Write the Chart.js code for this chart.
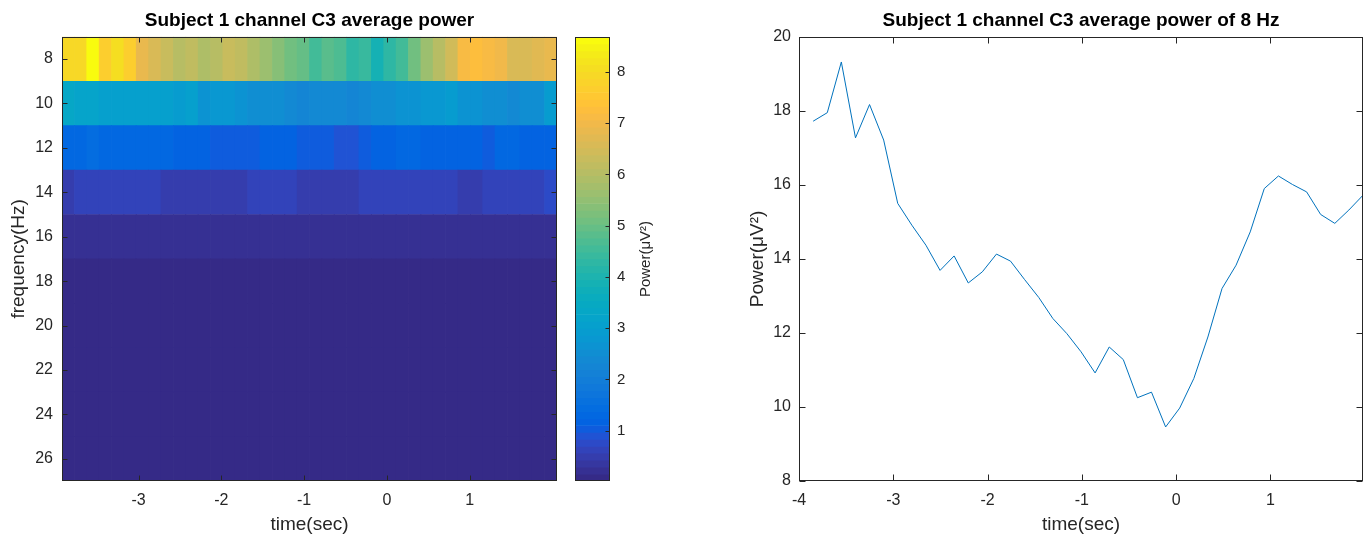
<!DOCTYPE html>
<html><head><meta charset="utf-8">
<script src="https://cdn.jsdelivr.net/npm/chart.js@4.4.1/dist/chart.umd.min.js"></script>
<style>
html,body{margin:0;padding:0;background:#fff;width:1365px;height:537px;overflow:hidden}
canvas{position:absolute;top:0}
</style></head><body>
<canvas id="heat" width="570" height="537" style="left:0px"></canvas>
<canvas id="cbar" width="140" height="537" style="left:560px"></canvas>
<canvas id="line" width="665" height="537" style="left:700px"></canvas>
<script>
// ---- data ----
const times = [-3.850,-3.700,-3.551,-3.401,-3.252,-3.102,-2.953,-2.803,-2.654,-2.504,-2.355,-2.205,-2.056,-1.906,-1.757,-1.607,-1.458,-1.308,-1.159,-1.009,-0.860,-0.710,-0.561,-0.411,-0.262,-0.112,0.037,0.187,0.336,0.486,0.635,0.785,0.934,1.084,1.233,1.383,1.532,1.682,1.831,1.981];
const freqs = [8,10,12,14,16,18,20,22,24,26];
const power8Hz = [17.72,17.95,19.32,17.27,18.17,17.21,15.50,14.91,14.37,13.69,14.08,13.35,13.65,14.13,13.94,13.44,12.96,12.39,11.98,11.49,10.92,11.62,11.28,10.25,10.40,9.46,9.97,10.77,11.89,13.20,13.83,14.73,15.90,16.24,16.01,15.81,15.20,14.96,15.32,15.72];
const row8  = [7.88,7.98,8.68,7.68,8.08,7.65,6.89,6.60,6.35,6.05,6.20,5.90,6.05,6.25,6.15,5.90,5.65,5.40,5.10,4.90,4.60,4.85,4.70,4.30,4.35,3.90,4.25,4.60,5.10,5.70,6.00,6.40,7.10,7.20,7.10,7.00,6.65,6.55,6.75,6.90];
const row10 = [3.40,3.22,3.20,3.12,3.10,3.08,3.05,3.04,3.00,2.98,3.00,2.62,2.76,2.74,2.66,2.56,2.55,2.50,2.36,2.26,2.40,2.42,2.36,2.26,2.36,2.50,2.52,2.62,2.60,2.80,2.82,2.92,2.62,2.60,2.56,2.46,2.45,2.55,2.56,2.96];
const row12 = [1.30,1.36,1.42,1.25,1.24,1.26,1.25,1.24,1.25,1.16,1.15,1.16,1.00,1.10,1.02,1.00,1.20,1.19,1.20,1.02,1.00,1.01,0.90,0.92,1.05,1.20,1.21,1.30,1.32,1.20,1.19,1.20,1.21,1.18,1.00,1.25,1.24,1.20,1.19,1.20];
const row14 = [0.46,0.60,0.61,0.60,0.62,0.60,0.61,0.60,0.48,0.49,0.47,0.48,0.49,0.47,0.48,0.62,0.63,0.61,0.62,0.50,0.49,0.50,0.51,0.50,0.60,0.61,0.60,0.62,0.61,0.60,0.62,0.61,0.47,0.48,0.60,0.62,0.61,0.62,0.60,0.74];
const row16 = [0.18,0.19,0.18,0.18,0.19,0.18,0.18,0.17,0.18,0.18,0.17,0.18,0.18,0.18,0.17,0.18,0.19,0.18,0.18,0.17,0.17,0.18,0.17,0.17,0.18,0.18,0.18,0.19,0.18,0.18,0.18,0.18,0.17,0.18,0.18,0.18,0.19,0.18,0.18,0.19];
const row18 = [0.08,0.09,0.08,0.08,0.09,0.08,0.08,0.08,0.08,0.08,0.08,0.08,0.08,0.08,0.08,0.08,0.09,0.08,0.08,0.08,0.07,0.08,0.08,0.07,0.08,0.08,0.08,0.08,0.08,0.08,0.08,0.08,0.08,0.08,0.08,0.08,0.08,0.08,0.08,0.08];
const row20 = [0.06,0.06,0.06,0.06,0.06,0.06,0.06,0.06,0.06,0.06,0.06,0.06,0.06,0.06,0.06,0.06,0.06,0.06,0.06,0.05,0.05,0.06,0.05,0.05,0.06,0.06,0.06,0.06,0.06,0.06,0.06,0.06,0.06,0.06,0.06,0.06,0.06,0.06,0.06,0.06];
const row22 = [0.04,0.04,0.04,0.04,0.04,0.04,0.04,0.04,0.04,0.04,0.04,0.04,0.04,0.04,0.04,0.04,0.04,0.04,0.04,0.04,0.04,0.04,0.04,0.04,0.04,0.04,0.04,0.04,0.04,0.04,0.04,0.04,0.04,0.04,0.04,0.04,0.04,0.04,0.04,0.04];
const row24 = [0.03,0.03,0.03,0.03,0.03,0.03,0.03,0.03,0.03,0.03,0.03,0.03,0.03,0.03,0.03,0.03,0.03,0.03,0.03,0.03,0.03,0.03,0.03,0.03,0.03,0.03,0.03,0.03,0.03,0.03,0.03,0.03,0.03,0.03,0.03,0.03,0.03,0.03,0.03,0.03];
const row26 = [0.02,0.02,0.02,0.02,0.02,0.02,0.02,0.02,0.02,0.02,0.02,0.02,0.02,0.02,0.02,0.02,0.02,0.02,0.02,0.02,0.02,0.02,0.02,0.02,0.02,0.02,0.02,0.02,0.02,0.02,0.02,0.02,0.02,0.02,0.02,0.02,0.02,0.02,0.02,0.02];
const heatRows = [row8,row10,row12,row14,row16,row18,row20,row22,row24,row26];
const heatXTicks = [-3,-2,-1,0,1];
const heatYTicks = [8,10,12,14,16,18,20,22,24,26];
const cbarTicks = [1,2,3,4,5,6,7,8];
const lineXTicks = [-4,-3,-2,-1,0,1];
const lineYTicks = [8,10,12,14,16,18,20];
const titleHeat = 'Subject 1 channel C3 average power';
const titleLine = 'Subject 1 channel C3 average power of 8 Hz';

// ---- parula colormap (64) ----
const parula = [[0.2081,0.1663,0.5292],[0.2116,0.1898,0.5777],[0.2123,0.2138,0.6270],[0.2081,0.2386,0.6771],[0.1959,0.2645,0.7279],[0.1707,0.2919,0.7792],[0.1253,0.3242,0.8303],[0.0591,0.3598,0.8683],[0.0117,0.3875,0.8820],[0.0060,0.4086,0.8828],[0.0165,0.4266,0.8786],[0.0329,0.4430,0.8720],[0.0498,0.4586,0.8641],[0.0629,0.4737,0.8554],[0.0723,0.4887,0.8467],[0.0779,0.5040,0.8384],[0.0793,0.5200,0.8312],[0.0749,0.5375,0.8263],[0.0641,0.5570,0.8240],[0.0488,0.5772,0.8228],[0.0343,0.5966,0.8199],[0.0265,0.6137,0.8135],[0.0239,0.6287,0.8038],[0.0231,0.6418,0.7913],[0.0228,0.6535,0.7768],[0.0267,0.6642,0.7607],[0.0384,0.6743,0.7436],[0.0590,0.6838,0.7254],[0.0843,0.6928,0.7062],[0.1133,0.7015,0.6859],[0.1453,0.7098,0.6646],[0.1801,0.7177,0.6424],[0.2178,0.7250,0.6193],[0.2586,0.7317,0.5954],[0.3022,0.7376,0.5712],[0.3482,0.7424,0.5473],[0.3953,0.7459,0.5244],[0.4420,0.7481,0.5033],[0.4871,0.7491,0.4840],[0.5300,0.7491,0.4661],[0.5709,0.7485,0.4494],[0.6099,0.7473,0.4337],[0.6473,0.7456,0.4188],[0.6834,0.7435,0.4044],[0.7184,0.7411,0.3905],[0.7525,0.7384,0.3768],[0.7858,0.7356,0.3633],[0.8185,0.7327,0.3498],[0.8507,0.7299,0.3360],[0.8824,0.7274,0.3217],[0.9139,0.7258,0.3063],[0.9450,0.7261,0.2886],[0.9739,0.7314,0.2666],[0.9938,0.7455,0.2403],[0.9990,0.7653,0.2164],[0.9955,0.7861,0.1967],[0.9880,0.8066,0.1794],[0.9789,0.8271,0.1633],[0.9697,0.8481,0.1475],[0.9626,0.8705,0.1309],[0.9589,0.8949,0.1132],[0.9598,0.9218,0.0948],[0.9661,0.9514,0.0755],[0.9763,0.9831,0.0538]];
const rgb = c => `rgb(${Math.round(c[0]*255)},${Math.round(c[1]*255)},${Math.round(c[2]*255)})`;
const allVals = heatRows.flat();
const cmin = Math.min(...allVals), cmax = Math.max(...allVals);
const colorFor = v => rgb(parula[Math.min(63, Math.max(0, Math.floor((v - cmin) / (cmax - cmin) * 64)))]);

const FONT = "'Liberation Sans', Arial, Helvetica, sans-serif";
Chart.defaults.font.family = FONT;
const INK = '#262626';

// box + inward ticks (MATLAB style)
const boxPlugin = {
  id: 'mbox',
  afterDraw(chart, args, o) {
    const {ctx, chartArea: a} = chart;
    const L = Math.round(a.left) + 0.5, R = Math.round(a.right) - 0.5;
    const T = Math.round(a.top) + 0.5, B = Math.round(a.bottom) - 0.5;
    ctx.save();
    ctx.strokeStyle = INK; ctx.lineWidth = 1;
    ctx.strokeRect(L, T, R - L, B - T);
    ctx.beginPath();
    if (o.x) {
      const s = chart.scales[o.x];
      s.ticks.forEach(t => {
        const p = Math.round(s.getPixelForValue(t.value)) + 0.5;
        ctx.moveTo(p, B); ctx.lineTo(p, B - o.len);
        ctx.moveTo(p, T); ctx.lineTo(p, T + o.len);
      });
    }
    if (o.y) {
      const s = chart.scales[o.y];
      s.ticks.forEach(t => {
        const p = Math.round(s.getPixelForValue(t.value)) + 0.5;
        if (o.yLeft) { ctx.moveTo(L, p); ctx.lineTo(L + o.len, p); }
        ctx.moveTo(R, p); ctx.lineTo(R - o.len, p);
      });
    }
    ctx.stroke();
    if (o.label) {
      ctx.fillStyle = INK;
      ctx.font = `${o.label.size}px ${FONT}`;
      ctx.translate(o.label.x, o.label.y);
      ctx.rotate(-Math.PI / 2);
      ctx.textAlign = 'center'; ctx.textBaseline = 'middle';
      ctx.fillText(o.label.text, 0, 0);
    }
    ctx.restore();
  }
};

const tickFont = {size: 16};
const labelFont = {size: 19};
const titleOpts = t => ({display: true, text: t, color: '#000', font: {size: 19, weight: 'bold'}, padding: {top: 9, bottom: 5}, fullSize: false});
const noGrid = {display: false, drawTicks: false};
const setTicks = arr => s => { s.ticks = arr.map(v => ({value: v})); };

// ---- heatmap ----
const half = (times[1] - times[0]) / 2;
const heatData = [], heatColors = [];
freqs.forEach((f, r) => heatRows[r].forEach((v, i) => {
  heatData.push({x: [times[i] - half, times[i] + half], y: f});
  heatColors.push(colorFor(v));
}));
new Chart(document.getElementById('heat'), {
  type: 'bar',
  data: {datasets: [{data: heatData, backgroundColor: heatColors, borderWidth: 0, barPercentage: 1, categoryPercentage: 1}]},
  options: {
    indexAxis: 'y', responsive: false, animation: false, devicePixelRatio: 1,
    layout: {padding: {left: 0, right: 13, top: 0, bottom: 0}},
    scales: {
      x: {type: 'linear', position: 'bottom', offset: false, min: times[0] - half, max: times[times.length - 1] + half,
          afterBuildTicks: setTicks(heatXTicks), afterFit: s => { s.height = 56; },
          grid: noGrid, border: {display: false},
          ticks: {font: tickFont, color: INK, padding: 10},
          title: {display: true, text: 'time(sec)', font: labelFont, color: INK, padding: {top: 0, bottom: 1}}},
      y: {type: 'linear', position: 'left', offset: false, reverse: true, min: 7, max: 27,
          afterBuildTicks: setTicks(heatYTicks), afterFit: s => { s.width = 62; },
          grid: noGrid, border: {display: false},
          ticks: {font: tickFont, color: INK, padding: 9},
          title: {display: true, text: 'frequency(Hz)', font: labelFont, color: INK, padding: {top: 7, bottom: 0}}}
    },
    plugins: {legend: {display: false}, tooltip: {enabled: false}, title: titleOpts(titleHeat),
              mbox: {x: 'x', y: 'y', len: 5, yLeft: true}}
  },
  plugins: [boxPlugin]
});

// ---- colorbar ----
const cstep = (cmax - cmin) / parula.length;
new Chart(document.getElementById('cbar'), {
  type: 'bar',
  data: {labels: ['cb'], datasets: [{
    data: parula.map((c, k) => ({x: 'cb', y: [cmin + k * cstep, cmin + (k + 1) * cstep]})),
    backgroundColor: parula.map(rgb), borderWidth: 0, barPercentage: 1, categoryPercentage: 1}]},
  options: {
    responsive: false, animation: false, devicePixelRatio: 1,
    layout: {padding: {left: 15, right: 0, top: 37, bottom: 56}},
    scales: {
      x: {type: 'category', display: false},
      y: {type: 'linear', position: 'right', min: cmin, max: cmax,
          afterBuildTicks: setTicks(cbarTicks), afterFit: s => { s.width = 90; },
          grid: noGrid, border: {display: false},
          ticks: {font: {size: 15}, color: INK, padding: 7}}
    },
    plugins: {legend: {display: false}, tooltip: {enabled: false},
              mbox: {y: 'y', len: 4, yLeft: false, label: {text: 'Power(μV²)', x: 86, y: 259, size: 15}}}
  },
  plugins: [boxPlugin]
});

// ---- line ----
new Chart(document.getElementById('line'), {
  type: 'scatter',
  data: {datasets: [{data: times.map((t, i) => ({x: t, y: power8Hz[i]})), showLine: true,
    borderColor: '#0072BD', borderWidth: 1, pointRadius: 0, tension: 0, fill: false}]},
  options: {
    responsive: false, animation: false, devicePixelRatio: 1,
    layout: {padding: {left: 0, right: 2, top: 0, bottom: 0}},
    scales: {
      x: {type: 'linear', position: 'bottom', min: -4, max: times[times.length - 1],
          afterBuildTicks: setTicks(lineXTicks), afterFit: s => { s.height = 56; },
          grid: noGrid, border: {display: false},
          ticks: {font: tickFont, color: INK, padding: 10},
          title: {display: true, text: 'time(sec)', font: labelFont, color: INK, padding: {top: 0, bottom: 1}}},
      y: {type: 'linear', position: 'left', min: 8, max: 20,
          afterBuildTicks: setTicks(lineYTicks), afterFit: s => { s.width = 99; },
          grid: noGrid, border: {display: false},
          ticks: {font: tickFont, color: INK, padding: 8},
          title: {display: true, text: 'Power(μV²)', font: labelFont, color: INK, padding: {top: 46, bottom: 0}}}
    },
    plugins: {legend: {display: false}, tooltip: {enabled: false}, title: titleOpts(titleLine),
              mbox: {x: 'x', y: 'y', len: 6, yLeft: true}}
  },
  plugins: [boxPlugin]
});
</script>
</body></html>
